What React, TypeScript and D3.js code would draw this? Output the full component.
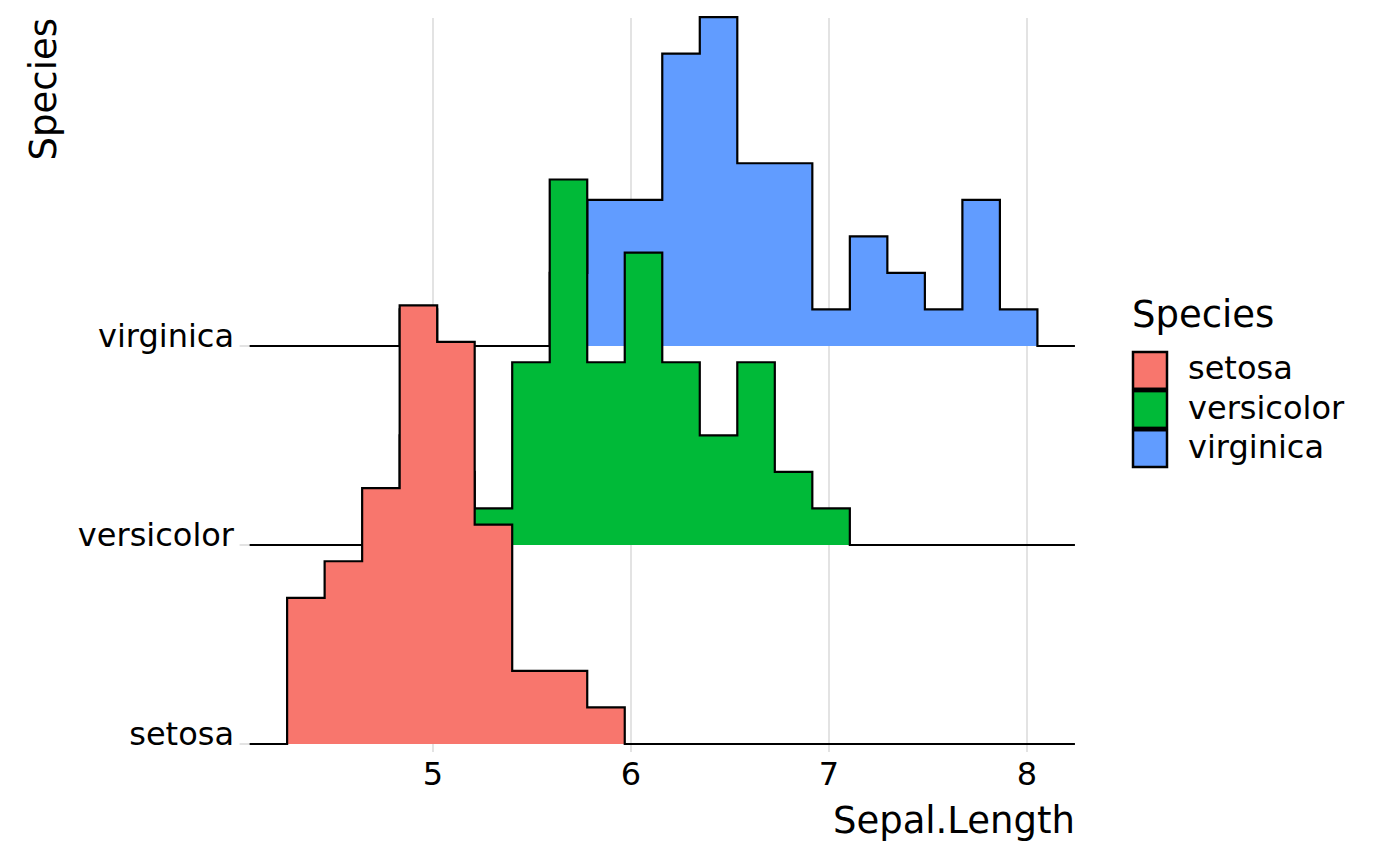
import React, { useRef, useEffect } from 'react';
import * as d3 from 'd3';

// Species in ridge order (bottom to top)
const species = ['setosa', 'versicolor', 'virginica'];
const speciesColors = ['#F8766D', '#00BA38', '#619CFF'];

// Histogram bins: 20 bins starting at 4.263, width 0.1895
const binStart = 4.2632;
const binWidth = 0.18947;

// Counts per bin for each species
const setosaCounts = [4, 5, 7, 12, 11, 6, 2, 2, 1, 0, 0, 0, 0, 0, 0, 0, 0, 0, 0, 0];
const versicolorCounts = [0, 0, 0, 3, 2, 1, 5, 10, 5, 8, 5, 3, 5, 2, 1, 0, 0, 0, 0, 0];
const virginicaCounts = [0, 0, 0, 1, 0, 0, 0, 2, 4, 4, 8, 9, 5, 5, 1, 3, 2, 1, 4, 1];

const xTicks = [5, 6, 7, 8];

export default function App() {
  const svgRef = useRef<SVGSVGElement | null>(null);

  useEffect(() => {
    document.body.style.margin = '0';
    if (!svgRef.current) return;

    const svg = d3.select(svgRef.current);
    svg.selectAll('*').remove();

    const width = 1400;
    const height = 866;
    const font = 'DejaVu Sans, sans-serif';
    const gridColor = '#e3e3e3';

    svg.attr('width', width).attr('height', height);

    const counts = [setosaCounts, versicolorCounts, virginicaCounts];

    // x: Sepal.Length
    const x = d3.scaleLinear().domain([5, 8]).range([433, 1027]);
    // baseline per species
    const yBase = d3.scalePoint<string>().domain(species).range([744, 346]);
    // ridge height per count
    const maxCount = d3.max(counts.flat()) || 1;
    const h = d3.scaleLinear().domain([0, maxCount]).range([0, 438.6]);

    const panelTop = 18;
    const panelBottom = 744;
    const padLeft = binStart - binWidth;

    // vertical grid lines + x ticks
    svg.append('g')
      .selectAll('line')
      .data(xTicks)
      .enter()
      .append('line')
      .attr('x1', d => x(d))
      .attr('x2', d => x(d))
      .attr('y1', panelTop)
      .attr('y2', panelBottom + 8)
      .attr('stroke', gridColor)
      .attr('stroke-width', 2);

    // y ticks
    svg.append('g')
      .selectAll('line')
      .data(species)
      .enter()
      .append('line')
      .attr('x1', x(padLeft) - 10)
      .attr('x2', x(padLeft))
      .attr('y1', d => yBase(d) as number)
      .attr('y2', d => yBase(d) as number)
      .attr('stroke', gridColor)
      .attr('stroke-width', 2);

    // ridges, drawn top to bottom so lower ones sit in front
    const order = [2, 1, 0];
    order.forEach(i => {
      const sp = species[i];
      const base = yBase(sp) as number;
      const c = counts[i];
      const padded = [0, ...c, 0];
      const pts: [number, number][] = [];
      padded.forEach((v, k) => {
        const x0 = padLeft + k * binWidth;
        const x1 = x0 + binWidth;
        pts.push([x(x0), base - h(v)]);
        pts.push([x(x1), base - h(v)]);
      });

      const area = d3.area<[number, number]>()
        .x(d => d[0])
        .y0(base)
        .y1(d => d[1]);

      svg.append('path')
        .attr('d', area(pts))
        .attr('fill', speciesColors[i])
        .attr('stroke', 'none');

      svg.append('path')
        .attr('d', d3.line()(pts))
        .attr('fill', 'none')
        .attr('stroke', '#000')
        .attr('stroke-width', 2.2)
        .attr('stroke-linejoin', 'miter');
    });

    // x tick labels
    svg.append('g')
      .selectAll('text')
      .data(xTicks)
      .enter()
      .append('text')
      .attr('x', d => x(d))
      .attr('y', 785)
      .attr('text-anchor', 'middle')
      .attr('font-family', font)
      .attr('font-size', 32)
      .attr('fill', '#000')
      .text(d => String(d));

    // y tick labels
    svg.append('g')
      .selectAll('text')
      .data(species)
      .enter()
      .append('text')
      .attr('x', 234)
      .attr('y', d => (yBase(d) as number) + 1)
      .attr('text-anchor', 'end')
      .attr('font-family', font)
      .attr('font-size', 32)
      .attr('fill', '#000')
      .text(d => d);

    // axis titles
    svg.append('text')
      .attr('x', 1075)
      .attr('y', 833)
      .attr('text-anchor', 'end')
      .attr('font-family', font)
      .attr('font-size', 37)
      .text('Sepal.Length');

    svg.append('text')
      .attr('transform', 'translate(56, 18) rotate(-90)')
      .attr('text-anchor', 'end')
      .attr('font-family', font)
      .attr('font-size', 37)
      .text('Species');

    // legend
    const legend = svg.append('g');
    legend.append('text')
      .attr('x', 1132)
      .attr('y', 327)
      .attr('font-family', font)
      .attr('font-size', 37)
      .text('Species');

    const keyY = d3.scaleBand<string>().domain(species).range([352, 467]).paddingInner(0.06);
    species.forEach((sp, i) => {
      const y0 = keyY(sp) as number;
      legend.append('rect')
        .attr('x', 1133)
        .attr('y', y0)
        .attr('width', 34)
        .attr('height', keyY.bandwidth())
        .attr('fill', speciesColors[i])
        .attr('stroke', '#000')
        .attr('stroke-width', 2.5);
      legend.append('text')
        .attr('x', 1188)
        .attr('y', y0 + keyY.bandwidth() / 2 + 9)
        .attr('font-family', font)
        .attr('font-size', 32)
        .text(sp);
    });
  }, []);

  return <svg ref={svgRef} style={{ display: 'block' }} />;
}
